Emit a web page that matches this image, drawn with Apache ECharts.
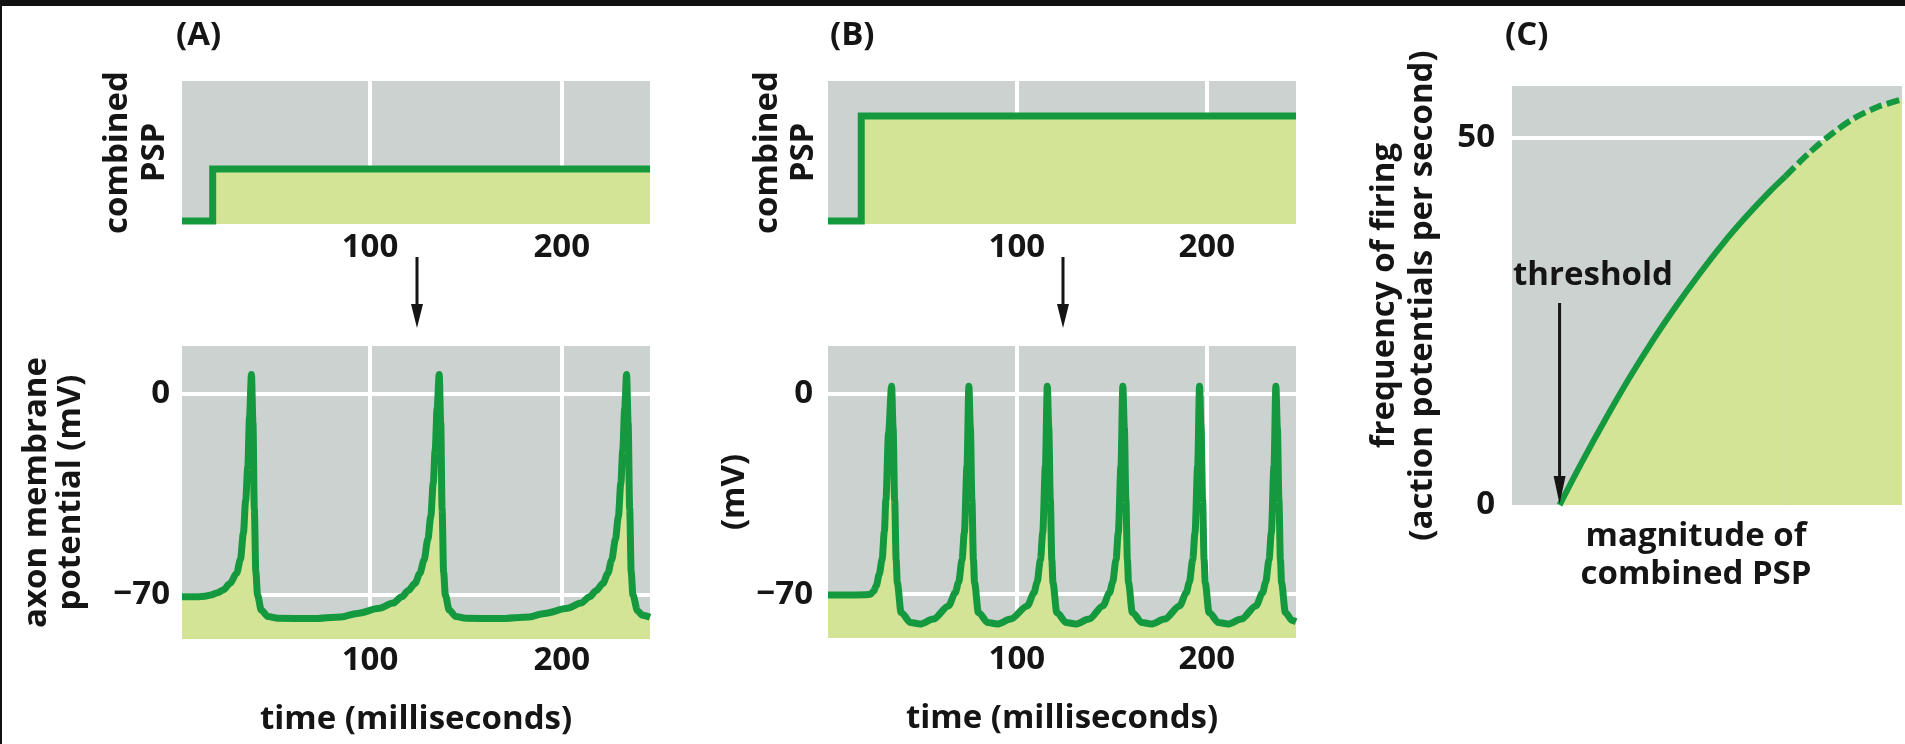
<!DOCTYPE html>
<html>
<head>
<meta charset="utf-8">
<script src="https://cdn.jsdelivr.net/npm/echarts@6.0.0/dist/echarts.min.js"></script>
<style>
html,body{margin:0;padding:0;background:#fff;}
#main{width:1905px;height:744px;}
</style>
</head>
<body>
<div id="main"></div>
<script>
// tick labels
var timeTicks = [100, 200];
var mvTicks = [0, -70];
var freqTicks = [0, 50];

// combined PSP (time ms, relative level 0-100)
var pspA = [[2, 2.1], [18, 2.1], [18, 38.5], [246, 38.5]];
var pspB = [[0.5, 2.1], [18, 2.1], [18, 75.5], [247, 75.5]];

// axon membrane potential (time ms, mV) - panel A
var vmA = [
  [2, -70.6], [10, -70.6], [14, -70.4], [17, -70], [20.5, -69.2], [23.5, -68.2], [27, -66], [30.5, -62.4],
  [32.5, -57.5], [34, -48.5], [35.2, -37], [36.3, -25.3], [37.2, -8], [38.2, 6.8],
  [39, -10], [39.7, -40], [40.5, -62], [41.4, -70], [43.3, -75.2], [46.8, -77.5], [52, -78.1],
  [70, -78.2], [85, -77.6], [93.3, -76.4], [105, -74.6], [112, -72.8], [116.6, -70.6], [120, -68.4],
  [123.5, -65.9], [126, -62.5], [128.2, -57.8], [130.2, -50.5], [131.7, -42.7], [133, -31], [134, -19.5],
  [135, -5], [136.1, 6.8],
  [136.9, -10], [137.6, -40], [138.4, -62], [139.3, -70], [141.3, -75.2], [144.8, -77.5], [150, -78.1],
  [168, -78.2], [183, -77.6], [191, -76.4], [203, -74.6], [210, -72.8], [214.5, -70.6], [218, -68.4],
  [221.5, -65.9], [224, -62.5], [226, -57.8], [228, -50.5], [229.5, -42.7], [230.8, -31], [231.8, -19.5],
  [232.8, -5], [233.8, 6.8],
  [234.6, -10], [235.4, -40], [236.2, -62], [237.1, -70], [239.5, -75.5], [242, -77], [246, -77.7]
];

// axon membrane potential (time ms, mV) - panel B
var vmB = [
  [0.5, -70.3], [10, -70.3], [20, -70.2], [22.9, -70], [24.5, -69], [25.9, -67.1], [27.5, -63], [29, -57.8],
  [30.2, -48], [31, -36.9], [32.4, -13.7], [34, 2.6],
  [34.8, -12], [35.6, -37], [36.4, -58], [37, -66], [39, -76.4], [44, -79.9], [49, -80.4], [56, -78.7],
  [64, -74.1], [67.5, -69.5], [69.3, -65.9], [71.1, -58], [72.3, -48.5], [73.7, -25.3], [74.7, 2.6],
  [75.5, -12], [76.3, -37], [77.1, -58], [77.7, -66], [79.7, -76.4], [84.7, -79.9], [89.7, -80.4], [96.7, -78.7],
  [105.5, -74.1], [109, -69.5], [110.6, -65.9], [112.4, -58], [113.6, -48.5], [115, -25.3], [116, 2.6],
  [116.8, -12], [117.6, -37], [118.4, -58], [119, -66], [121, -76.4], [126, -79.9], [131, -80.4], [138, -78.7],
  [145.3, -74.1], [148.8, -69.5], [150.4, -65.9], [152.2, -58], [153.4, -48.5], [154.8, -25.3], [155.8, 2.6],
  [156.6, -12], [157.4, -37], [158.2, -58], [158.8, -66], [160.8, -76.4], [165.8, -79.9], [170.8, -80.4], [177.8, -78.7],
  [185.7, -74.1], [189.2, -69.5], [190.8, -65.9], [192.6, -58], [193.8, -48.5], [195.2, -25.3], [196.2, 2.6],
  [197, -12], [197.8, -37], [198.6, -58], [199.2, -66], [201.2, -76.4], [206.2, -79.9], [211.2, -80.4], [218.2, -78.7],
  [225.9, -74.1], [229.4, -69.5], [231, -65.9], [232.8, -58], [234, -48.5], [235.4, -25.3], [236.4, 2.6],
  [237.2, -12], [238, -37], [238.8, -58], [239.4, -66], [241.4, -76.4], [245, -79.2], [247, -79.6]
];

// frequency of firing vs magnitude of combined PSP - panel C
var thresholdX = 12.2;
var freqSolid = [[12.2, 0], [18, 5.9], [24, 11.7], [30, 17.2], [36, 22.3], [42, 27], [48, 31.4],
  [54, 35.5], [60, 39.2], [66, 42.6], [70.1, 44.7]];
var freqDashed = [[70.1, 44.7], [76, 47.8], [82, 50.5], [88, 52.7], [94, 54.2], [100, 55.2]];

var GRAY = '#ccd2cf';
var FILL = '#d4e497';
var GREEN = '#14993f';
var INK = '#151515';
var txt = { fontFamily: "'Open Sans', sans-serif", fontWeight: 'bold', fontSize: 33, color: INK };

function gridBox(l, t, w, h) {
  return { left: l, top: t, width: w, height: h, show: true, backgroundColor: GRAY, borderWidth: 0 };
}
function timeAxis(i, min, max, margin, name) {
  return {
    type: 'value', gridIndex: i, min: min, max: max,
    axisLine: { show: false }, axisTick: { show: false }, splitLine: { show: false },
    axisLabel: Object.assign({ customValues: timeTicks, margin: margin }, txt),
    name: name || '', nameLocation: 'middle', nameGap: 64, nameTextStyle: txt
  };
}
function mvLabel(v) { return String(v).replace('-', '\u2212'); }
function lineSeries(i, data, extra) {
  return Object.assign({
    type: 'line', xAxisIndex: i, yAxisIndex: i, data: data, z: 3,
    showSymbol: false, symbol: 'none', silent: true, animation: false,
    lineStyle: { color: GREEN, width: 7, join: 'round' },
    areaStyle: { color: FILL, opacity: 1, origin: 'start' }
  }, extra || {});
}
function gridLines(i, marks) {
  return {
    type: 'line', xAxisIndex: i, yAxisIndex: i, data: [], silent: true, animation: false, z: 1,
    markLine: {
      z: 1, silent: true, symbol: 'none', animation: false, label: { show: false },
      lineStyle: { color: '#fff', width: 4, type: 'solid' },
      emphasis: { disabled: true },
      data: marks
    }
  };
}

var chart = echarts.init(document.getElementById('main'));

var option = {
  backgroundColor: '#fff',
  animation: false,
  title: [
    { text: '(A)', left: 176, top: 19, padding: 0, textStyle: txt },
    { text: '(B)', left: 830, top: 19, padding: 0, textStyle: txt },
    { text: '(C)', left: 1505, top: 19, padding: 0, textStyle: txt }
  ],
  grid: [
    gridBox(182, 81, 468, 143),
    gridBox(182, 346, 468, 293),
    gridBox(828, 81, 468, 143),
    gridBox(828, 346, 468, 292),
    gridBox(1512, 86, 390, 419)
  ],
  xAxis: [
    timeAxis(0, 2, 246, 7),
    timeAxis(1, 2, 246, 5, 'time (milliseconds)'),
    timeAxis(2, 0.5, 247, 7),
    timeAxis(3, 0.5, 247, 5, 'time (milliseconds)'),
    {
      type: 'value', gridIndex: 4, min: 0, max: 100,
      axisLine: { show: false }, axisTick: { show: false }, splitLine: { show: false }, axisLabel: { show: false },
      name: 'magnitude of\ncombined PSP', nameLocation: 'middle', nameGap: 13,
      nameTextStyle: Object.assign({ lineHeight: 38, padding: [0, 22, 0, 0] }, txt)
    }
  ],
  yAxis: [
    {
      type: 'value', gridIndex: 0, min: 0, max: 100,
      axisLine: { show: false }, axisTick: { show: false }, splitLine: { show: false }, axisLabel: { show: false },
      name: 'combined\nPSP', nameLocation: 'middle', nameGap: 9,
      nameTextStyle: Object.assign({ lineHeight: 37 }, txt)
    },
    {
      type: 'value', gridIndex: 1, min: -85.3, max: 16.7,
      axisLine: { show: false }, axisTick: { show: false }, splitLine: { show: false },
      axisLabel: Object.assign({ customValues: mvTicks, margin: 12, formatter: mvLabel }, txt),
      name: 'axon membrane\npotential (mV)', nameLocation: 'middle', nameGap: 94,
      nameTextStyle: Object.assign({ lineHeight: 34 }, txt)
    },
    {
      type: 'value', gridIndex: 2, min: 0, max: 100,
      axisLine: { show: false }, axisTick: { show: false }, splitLine: { show: false }, axisLabel: { show: false },
      name: 'combined\nPSP', nameLocation: 'middle', nameGap: 6,
      nameTextStyle: Object.assign({ lineHeight: 36 }, txt)
    },
    {
      type: 'value', gridIndex: 3, min: -85.3, max: 16.7,
      axisLine: { show: false }, axisTick: { show: false }, splitLine: { show: false },
      axisLabel: Object.assign({ customValues: mvTicks, margin: 15, formatter: mvLabel }, txt),
      name: '(mV)', nameLocation: 'middle', nameGap: 72,
      nameTextStyle: Object.assign({ lineHeight: 36 }, txt)
    },
    {
      type: 'value', gridIndex: 4, min: 0, max: 57,
      axisLine: { show: false }, axisTick: { show: false }, splitLine: { show: false },
      axisLabel: Object.assign({ customValues: freqTicks, margin: 17 }, txt),
      name: 'frequency of firing\n(action potentials per second)', nameLocation: 'middle', nameGap: 70,
      nameTextStyle: Object.assign({ lineHeight: 38 }, txt)
    }
  ],
  series: [
    gridLines(0, timeTicks.map(function (t) { return { xAxis: t }; })),
    gridLines(1, timeTicks.map(function (t) { return { xAxis: t }; }).concat(mvTicks.map(function (v) { return { yAxis: v }; }))),
    gridLines(2, timeTicks.map(function (t) { return { xAxis: t }; })),
    gridLines(3, timeTicks.map(function (t) { return { xAxis: t }; }).concat(mvTicks.map(function (v) { return { yAxis: v }; }))),
    gridLines(4, [{ yAxis: freqTicks[1] }]),
    lineSeries(0, pspA, { lineStyle: { color: GREEN, width: 7, join: 'miter' } }),
    lineSeries(1, vmA, { smooth: 0.3, smoothMonotone: 'x' }),
    lineSeries(2, pspB, { lineStyle: { color: GREEN, width: 7, join: 'miter' } }),
    lineSeries(3, vmB, { smooth: 0.3, smoothMonotone: 'x' }),
    lineSeries(4, freqSolid, { smooth: 0.3, lineStyle: { color: GREEN, width: 6 } }),
    lineSeries(4, freqDashed, { smooth: 0.3, lineStyle: { color: GREEN, width: 6, type: [13, 5] } })
  ]
};
chart.setOption(option);

// arrows and frame
function downArrow(x, y0, y1, head) {
  return [
    { type: 'line', shape: { x1: x, y1: y0, x2: x, y2: y1 - head + 2 }, style: { stroke: INK, lineWidth: 3 }, z: 20 },
    { type: 'polygon', shape: { points: [[x - 6, y1 - head], [x + 6, y1 - head], [x, y1]] }, style: { fill: INK }, z: 20 }
  ];
}
var tip = chart.convertToPixel({ xAxisIndex: 4, yAxisIndex: 4 }, [thresholdX, 0]);
var g = [
  { type: 'rect', shape: { x: 0, y: 0, width: 1905, height: 6 }, style: { fill: '#111' }, z: 30 },
  { type: 'rect', shape: { x: 0, y: 0, width: 2, height: 744 }, style: { fill: '#111' }, z: 30 },
  { type: 'text', left: 1513, top: 259, style: { text: 'threshold', font: "bold 33px 'Open Sans', sans-serif", fill: INK }, z: 20 }
];
g = g.concat(downArrow(417, 257, 328, 24), downArrow(1063, 257, 328, 24), downArrow(tip[0], 303, tip[1] - 1, 28));
chart.setOption({ graphic: g });
</script>
</body>
</html>
